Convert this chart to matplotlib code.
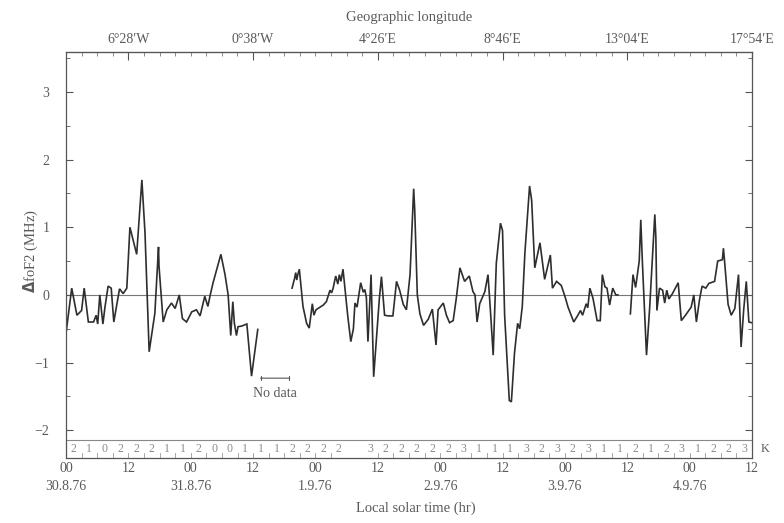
import numpy as np
import matplotlib
matplotlib.use("Agg")
import matplotlib.pyplot as plt
from matplotlib.ticker import MultipleLocator, FixedLocator

# ---- data (hours since 00 LST 30.8.76, delta foF2 in MHz) ----
seg1_t = [0.0, 1.1, 2.1, 3.0, 3.5, 4.3, 5.3, 5.8, 6.1, 6.5, 7.1, 7.5, 8.1, 8.7, 9.2,
          10.3, 11.0, 11.7, 12.3, 13.6, 14.6, 15.2, 16.0, 17.1, 17.8, 17.9, 18.7,
          19.4, 20.3, 21.0, 21.8, 22.4, 23.2, 24.2, 25.1, 25.8, 26.7, 27.3, 27.7,
          28.3, 29.8, 30.6, 31.2, 31.7, 32.1, 32.4, 32.8, 33.1, 33.8, 34.8, 35.7, 36.9]
seg1_v = [-0.57, 0.10, -0.30, -0.23, 0.10, -0.40, -0.40, -0.30, -0.43, 0.00, -0.43,
          -0.18, 0.13, 0.10, -0.40, 0.09, 0.02, 0.10, 1.00, 0.60, 1.70, 0.92, -0.84,
          -0.27, 0.71, 0.42, -0.40, -0.22, -0.12, -0.20, 0.00, -0.35, -0.40, -0.25,
          -0.22, -0.31, -0.02, -0.17, -0.02, 0.18, 0.60, 0.30, 0.00, -0.60, -0.10,
          -0.42, -0.60, -0.47, -0.46, -0.43, -1.20, -0.51]

seg2_t = [43.5, 44.0, 44.2, 44.4, 44.6, 44.9, 45.6, 46.3, 46.8, 47.4, 47.7, 48.1, 49.5,
          50.1, 50.8, 51.1, 51.4, 51.9, 52.3, 52.6, 52.9, 53.3, 54.2, 54.8, 55.3,
          55.6, 56.0, 56.7, 57.2, 57.5, 57.8, 58.1, 58.7, 59.2, 59.8, 60.3, 60.7,
          61.3, 62.0, 62.9, 63.6, 64.2, 64.9, 65.5, 66.2, 66.9, 67.1, 67.6, 68.1,
          68.8, 69.7, 70.5, 71.2, 71.6, 72.6, 73.2, 73.8, 74.5, 75.1, 75.8, 76.7,
          77.6, 78.3, 78.7, 79.1, 79.6, 80.6, 81.2, 81.7, 82.2, 82.8, 83.6, 84.0,
          84.4, 85.3, 85.7, 86.3, 86.9, 87.3, 87.8, 88.3, 89.2, 89.6, 90.2, 91.2,
          92.1, 93.2, 93.6, 94.4, 95.3, 96.0, 96.6, 97.7, 98.5, 99.0, 99.4, 99.8,
          100.1, 100.4, 100.8, 101.4, 102.2, 102.8, 103.2, 103.7, 104.1, 104.6,
          105.2, 105.8, 106.2]
seg2_v = [0.10, 0.25, 0.33, 0.22, 0.30, 0.38, -0.17, -0.42, -0.49, -0.13, -0.30, -0.22,
          -0.15, -0.10, 0.07, 0.03, 0.10, 0.28, 0.16, 0.30, 0.20, 0.38, -0.30, -0.69,
          -0.50, -0.12, -0.18, 0.18, 0.04, 0.08, -0.04, -0.69, 0.30, -1.21, -0.57,
          -0.05, 0.27, -0.30, -0.31, -0.31, 0.20, 0.07, -0.14, -0.22, 0.30, 1.57,
          1.26, 0.00, -0.28, -0.45, -0.36, -0.21, -0.74, -0.22, -0.12, -0.30, -0.41,
          -0.38, -0.05, 0.40, 0.20, 0.28, 0.05, 0.00, -0.40, -0.13, 0.05, 0.30,
          -0.27, -0.89, 0.47, 1.06, 0.95, -0.30, -1.56, -1.58, -0.86, -0.42, -0.50,
          -0.17, 0.62, 1.61, 1.40, 0.40, 0.77, 0.23, 0.59, 0.10, 0.20, 0.14, -0.02,
          -0.18, -0.40, -0.30, -0.23, -0.30, -0.20, -0.13, -0.19, 0.10, -0.05,
          -0.38, -0.38, 0.30, 0.12, 0.10, -0.15, 0.10, 0.00, 0.00]

seg3_t = [108.6, 109.1, 109.6, 110.3, 110.6, 110.9, 111.7, 112.3, 112.8, 113.3, 113.5,
          113.7, 114.2, 114.8, 115.2, 115.6, 116.0, 116.7, 117.8, 118.4, 119.2,
          120.3, 120.8, 121.3, 121.9, 122.4, 123.1, 123.7, 124.8, 125.4, 126.3,
          126.5, 126.7, 127.4, 128.0, 128.7, 129.4, 129.9, 130.4, 130.9, 131.4, 131.9]
seg3_v = [-0.28, 0.30, 0.11, 0.50, 1.11, 0.50, -0.89, -0.20, 0.50, 1.19, 0.85, -0.23,
          0.10, 0.07, -0.12, 0.07, -0.06, 0.02, 0.18, -0.38, -0.30, -0.18, 0.00,
          -0.40, -0.07, 0.13, 0.10, 0.17, 0.20, 0.50, 0.52, 0.69, 0.52, -0.14,
          -0.30, -0.20, 0.30, -0.77, -0.22, 0.20, -0.40, -0.41]

# 3-hourly K indices (None = missing)
k_index = [2, 1, 0, 2, 2, 2, 1, 1, 2, 0, 0, 1, 1, 1, 2, 2, 2, 2, None,
           3, 2, 2, 2, 2, 2, 3, 1, 1, 1, 3, 2, 3, 2, 3, 1, 1, 2, 1, 2, 3, 1, 2, 2, 3]

bottom_ticks = [0, 12, 24, 36, 48, 60, 72, 84, 96, 108, 120, 132]
bottom_labels = ["00", "12", "00", "12", "00", "12", "00", "12", "00", "12", "00", "12"]
date_pos = [0, 24, 48, 72, 96, 120]
date_labels = ["30.8.76", "31.8.76", "1.9.76", "2.9.76", "3.9.76", "4.9.76"]
lon_pos = [12, 36, 60, 84, 108, 132]
lon_labels = ["6\u00b028\u2032W", "0\u00b038\u2032W", "4\u00b026\u2032E",
              "8\u00b046\u2032E", "13\u00b004\u2032E", "17\u00b054\u2032E"]

# ---- style ----
TXT = "#5a5a5a"
LINE = "#2e2e2e"
FS_TICK = 10
FS_LAB = 10.5
plt.rcParams["font.family"] = ["Liberation Serif", "DejaVu Serif"]
plt.rcParams["mathtext.fontset"] = "custom"
plt.rcParams["mathtext.rm"] = "Liberation Serif"
plt.rcParams["mathtext.bf"] = "DejaVu Sans:bold"

fig = plt.figure(figsize=(7.84, 5.23), dpi=100)
ax = fig.add_axes([66 / 784, 1 - 458 / 523, 686 / 784, 406 / 523])
YMIN, YMAX = -2.41, 3.59
ax.set_xlim(0, 132)
ax.set_ylim(YMIN, YMAX)

t = seg1_t + [np.nan] + seg2_t + [np.nan] + seg3_t
v = seg1_v + [np.nan] + seg2_v + [np.nan] + seg3_v
ax.plot(t, v, color=LINE, lw=1.2, solid_joinstyle="miter")
ax.axhline(0, color="#777777", lw=0.8, zorder=1)

# K strip
STRIP = -2.14
ax.axhline(STRIP, color="#888888", lw=0.8)
for i, k in enumerate(k_index):
    if k is None:
        continue
    ax.text(3 * i + 1.5, (STRIP + YMIN) / 2, str(k), ha="center", va="center",
            fontsize=8.5, color="#8a8a8a")
    if i > 0 and k_index[i - 1] is not None:
        ax.plot([3 * i, 3 * i], [YMIN, YMIN + 0.07], color="#999999", lw=0.6)
ax.text(1.012, (STRIP + YMIN) / 2, "K", transform=ax.get_yaxis_transform(),
        ha="left", va="center", fontsize=9, color=TXT)

# No data marker
ax.annotate("", xy=(36.9, -1.23), xytext=(43.5, -1.23),
            arrowprops=dict(arrowstyle="|-|,widthA=0.15,widthB=0.15", color="#555555", lw=0.8))
ax.text(40.2, -1.45, "No data", ha="center", va="center", fontsize=FS_TICK, color=TXT)

# spines
for s in ax.spines.values():
    s.set_color("#555555")
    s.set_linewidth(0.9)

# y axis
ax.yaxis.set_major_locator(FixedLocator([-2, -1, 0, 1, 2, 3]))
ax.yaxis.set_minor_locator(FixedLocator([-1.5, -0.5, 0.5, 1.5, 2.5, 3.5]))
ax.set_yticklabels(["\u22122", "\u22121", "0", "1", "2", "3"])
ax.tick_params(axis="y", which="both", direction="in", left=True, right=True,
               colors="#555555", labelcolor=TXT, labelsize=FS_TICK, pad=12)
ax.tick_params(axis="y", which="major", length=5)
ax.tick_params(axis="y", which="minor", length=3)
ax.set_ylabel(r"$\mathbf{\Delta}$foF2 (MHz)", fontsize=FS_LAB, color=TXT)
ax.yaxis.set_label_coords(-26 / 686, 0.51)

# bottom axis
ax.set_xticks(bottom_ticks)
ax.set_xticklabels(bottom_labels)
ax.tick_params(axis="x", which="major", direction="in", length=0, labelsize=FS_TICK,
               labelcolor=TXT, pad=3)
for p, lab in zip(date_pos, date_labels):
    ax.text(p, -29 / 406, lab, transform=ax.get_xaxis_transform(), ha="center",
            va="center", fontsize=FS_TICK, color=TXT)
ax.set_xlabel("Local solar time (hr)", fontsize=FS_LAB, color=TXT)
ax.xaxis.set_label_coords(350 / 686, -44 / 406)

# top axis
top = ax.secondary_xaxis("top")
top.set_xticks(lon_pos)
top.set_xticklabels(lon_labels)
top.xaxis.set_minor_locator(MultipleLocator(3))
top.tick_params(axis="x", which="major", direction="in", length=6, labelsize=FS_TICK,
                colors="#555555", labelcolor=TXT, pad=4)
top.tick_params(axis="x", which="minor", direction="in", length=3, colors="#777777")
top.set_xlabel("Geographic longitude", fontsize=FS_LAB, color=TXT, labelpad=9)
for s in top.spines.values():
    s.set_color("#555555")

fig.savefig("out.png", dpi=100, facecolor="white")
